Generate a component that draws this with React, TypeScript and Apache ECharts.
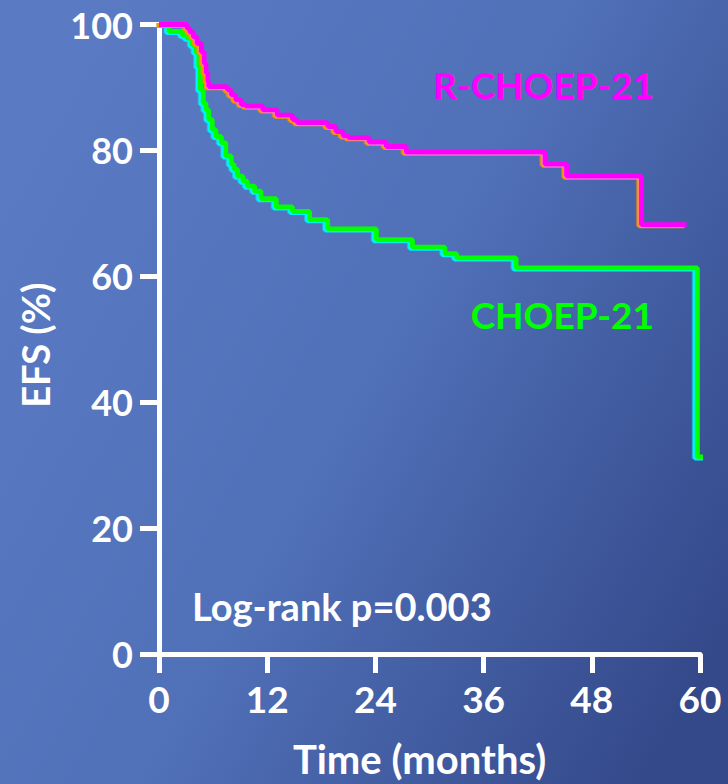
import React, { useEffect, useRef } from "react";
import * as echarts from "echarts";

const xTicks = [0, 12, 24, 36, 48, 60];
const yTicks = [0, 20, 40, 60, 80, 100];

// R-CHOEP-21 : [months, EFS %]
const rchoepTime = [0, 3.1, 3.4, 3.8, 4.2, 4.7, 5.0, 5.2, 5.4, 5.5, 7.6, 8.0, 8.5, 9.1, 9.6, 11.5, 13.1, 14.8, 15.3, 18.7, 19.6, 20.4, 21.0, 23.3, 25.2, 27.4, 42.8, 45.2, 53.5, 58.5];
const rchoepEfs = [100, 99.4, 98.8, 98.0, 97.0, 95.6, 93.8, 92.3, 90.9, 90.1, 89.6, 88.8, 88.0, 87.3, 87.0, 86.4, 85.6, 84.9, 84.4, 83.8, 83.0, 82.3, 82.0, 81.3, 80.6, 79.7, 77.8, 75.9, 68.2, 68.2];

// CHOEP-21
const choepTime = [0, 1.1, 2.6, 3.1, 3.7, 4.1, 4.4, 4.6, 4.9, 5.2, 5.5, 5.9, 6.3, 6.9, 7.4, 8.0, 8.3, 8.7, 9.3, 9.8, 10.6, 11.3, 13.0, 14.8, 16.7, 18.7, 24.1, 28.1, 31.7, 33.0, 39.6, 59.7, 61.5];
const choepEfs = [100, 98.9, 98.3, 97.8, 96.7, 95.6, 93.3, 89.6, 87.5, 86.4, 84.9, 83.3, 82.2, 81.2, 79.1, 77.8, 77.0, 75.9, 75.1, 74.3, 73.5, 72.3, 71.0, 70.3, 69.0, 67.5, 65.8, 64.6, 63.6, 62.9, 61.3, 31.3, 31.3];

const seriesNames = ["R-CHOEP-21", "CHOEP-21"];
const pText = "Log-rank p=0.003";

const FONT = "Lato, 'Open Sans', sans-serif";

export default function App() {
  const ref = useRef<HTMLDivElement>(null);
  useEffect(() => {
    if (!ref.current) return;
    const chart = echarts.init(ref.current, null, { renderer: "svg" });
    const zip = (t: number[], v: number[]) => t.map((x, i) => [x, v[i]]);
    chart.setOption({
      animation: false,
      backgroundColor: {
        type: "linear",
        x: 0,
        y: 0.2,
        x2: 1,
        y2: 0.8,
        colorStops: [
          { offset: 0, color: "#5a7bc4" },
          { offset: 0.5, color: "#5070b8" },
          { offset: 1, color: "#34498a" },
        ],
      },
      grid: { left: 159, right: 28, top: 24.5, bottom: 127 },
      xAxis: {
        type: "value",
        min: 0,
        max: 60,
        interval: 12,
        name: "Time (months)",
        nameLocation: "middle",
        nameGap: 85,
        nameTextStyle: {
          color: "#ffffff",
          fontFamily: FONT,
          fontWeight: "bold",
          fontSize: 40,
          padding: [0, 20, 0, 0],
        },
        axisLine: { show: true, lineStyle: { color: "#ffffff", width: 5 } },
        axisTick: { show: true, length: 19, lineStyle: { color: "#ffffff", width: 5 } },
        axisLabel: {
          color: "#ffffff",
          fontFamily: FONT,
          fontWeight: "bold",
          fontSize: 37,
          margin: 26,
          formatter: (v: number) => (xTicks.includes(v) ? String(v) : ""),
        },
        splitLine: { show: false },
      },
      yAxis: {
        type: "value",
        min: 0,
        max: 100,
        interval: 20,
        name: "EFS (%)",
        nameLocation: "middle",
        nameGap: 105,
        nameTextStyle: {
          color: "#ffffff",
          fontFamily: FONT,
          fontWeight: "bold",
          fontSize: 38,
          padding: [0, 12, 0, 0],
        },
        axisLine: { show: true, lineStyle: { color: "#ffffff", width: 5 } },
        axisTick: { show: true, length: 19, lineStyle: { color: "#ffffff", width: 5 } },
        axisLabel: {
          color: "#ffffff",
          fontFamily: FONT,
          fontWeight: "bold",
          fontSize: 36,
          margin: 26,
          formatter: (v: number) => (yTicks.includes(v) ? String(v) : ""),
        },
        splitLine: { show: false },
      },
      series: [
        {
          name: seriesNames[1],
          type: "line",
          step: "end",
          symbol: "none",
          clip: false,
          data: zip(choepTime, choepEfs),
          lineStyle: {
            color: "#00ff00",
            width: 5,
            shadowColor: "#00f0ff",
            shadowOffsetX: -2.5,
            shadowOffsetY: 1,
            shadowBlur: 0,
          },
          z: 3,
        },
        {
          name: seriesNames[0],
          type: "line",
          step: "end",
          symbol: "none",
          clip: false,
          data: zip(rchoepTime, rchoepEfs),
          lineStyle: {
            color: "#ff00ff",
            width: 5,
            shadowColor: "#ff9000",
            shadowOffsetX: -2.5,
            shadowOffsetY: 1,
            shadowBlur: 0,
          },
          z: 4,
        },
      ],
      graphic: [
        {
          type: "text",
          right: 74,
          top: 66,
          style: { text: seriesNames[0], fill: "#ff00ff", font: `bold 37px ${FONT}` },
        },
        {
          type: "text",
          right: 74,
          top: 296,
          style: { text: seriesNames[1], fill: "#00ff00", font: `bold 37px ${FONT}` },
        },
        {
          type: "text",
          left: 192,
          top: 587,
          style: { text: pText, fill: "#ffffff", font: `bold 38px ${FONT}` },
        },
      ],
    });
    return () => chart.dispose();
  }, []);
  return (
    <div
      ref={ref}
      style={{ position: "fixed", left: 0, top: 0, width: 728, height: 784 }}
    />
  );
}
